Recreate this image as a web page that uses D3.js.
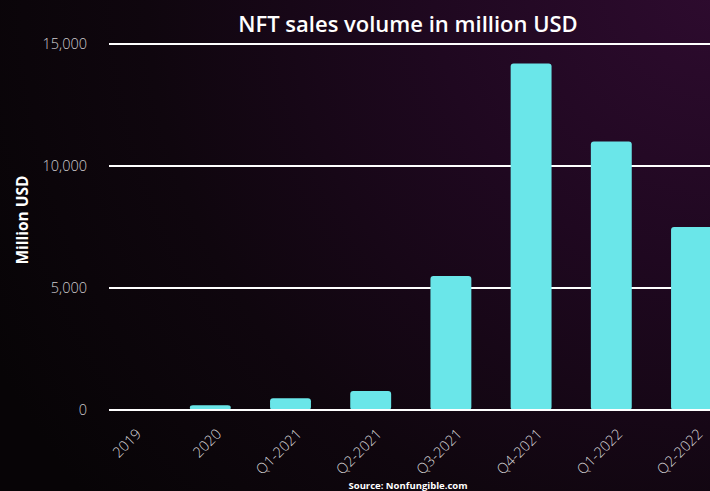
<!DOCTYPE html>
<html>
<head>
<meta charset="utf-8">
<script src="https://cdn.jsdelivr.net/npm/d3@7"></script>
<style>
  html, body { margin: 0; padding: 0; background: #0a0509; }
  svg { display: block; }
</style>
</head>
<body>
<svg id="chart" width="710" height="491"></svg>
<script>
// NFT sales volume per period (million USD)
const periods = ["2019", "2020", "Q1-2021", "Q2-2021", "Q3-2021", "Q4-2021", "Q1-2022", "Q2-2022"];
const volumes = [0, 190, 480, 780, 5490, 14200, 11000, 7500];
const yTicks = [0, 5000, 10000, 15000];

const W = 710, H = 491;
const svg = d3.select("#chart");

// Dark background with a purple glow toward the upper right
const defs = svg.append("defs");
const bg = defs.append("radialGradient")
  .attr("id", "bg").attr("gradientUnits", "userSpaceOnUse")
  .attr("cx", 720).attr("cy", -20).attr("r", 820);
bg.append("stop").attr("offset", "0%").attr("stop-color", "#2e0b2f");
bg.append("stop").attr("offset", "35%").attr("stop-color", "#1f0820");
bg.append("stop").attr("offset", "70%").attr("stop-color", "#0f060e");
bg.append("stop").attr("offset", "100%").attr("stop-color", "#070406");
svg.append("rect").attr("width", W).attr("height", H).attr("fill", "url(#bg)");

const x = d3.scaleBand()
  .domain(periods)
  .range([90, 731.6])
  .paddingInner(0.49)
  .paddingOuter(0.245);

const y = d3.scaleLinear()
  .domain([0, 15000])
  .range([410, 44]);

const plotLeft = 109, plotRight = 710;

// Horizontal gridlines
svg.append("g")
  .selectAll("line")
  .data(yTicks)
  .join("line")
  .attr("x1", plotLeft).attr("x2", plotRight)
  .attr("y1", d => y(d)).attr("y2", d => y(d))
  .attr("stroke", "#ffffff").attr("stroke-width", 2);

// Y axis tick labels
const yAxis = d3.axisLeft(y)
  .tickValues(yTicks)
  .tickFormat(d3.format(","))
  .tickSize(0)
  .tickPadding(0);
const gy = svg.append("g").attr("transform", "translate(87,0)").call(yAxis);
gy.select(".domain").remove();
gy.selectAll("text")
  .attr("fill", "#cfcccf")
  .attr("font-family", "'Open Sans', sans-serif")
  .attr("font-weight", 300)
  .attr("font-size", 14.5);

// Bars
svg.append("g")
  .selectAll("rect")
  .data(periods.map((p, i) => ({ p, v: volumes[i] })).filter(d => d.v > 0))
  .join("rect")
  .attr("x", d => x(d.p))
  .attr("y", d => y(d.v))
  .attr("width", x.bandwidth())
  .attr("height", d => y(0) - y(d.v))
  .attr("rx", 3).attr("ry", 3)
  .attr("fill", "#6ae6e9");

// Redraw baseline above bars
svg.append("line")
  .attr("x1", plotLeft).attr("x2", plotRight)
  .attr("y1", y(0)).attr("y2", y(0))
  .attr("stroke", "#ffffff").attr("stroke-width", 2);

// X axis labels, rotated
const xAxis = d3.axisBottom(x).tickSize(0).tickPadding(0);
const gx = svg.append("g").attr("transform", "translate(0,416)").call(xAxis);
gx.select(".domain").remove();
gx.selectAll("text")
  .attr("fill", "#d8d6d8")
  .attr("font-family", "'Open Sans', sans-serif")
  .attr("font-weight", 300)
  .attr("font-size", 14.5)
  .attr("text-anchor", "end")
  .attr("dy", null)
  .attr("transform", "translate(12,19) rotate(-45)");

// Title
svg.append("text")
  .attr("x", 408).attr("y", 32)
  .attr("text-anchor", "middle")
  .attr("fill", "#ffffff")
  .attr("font-family", "'Open Sans', sans-serif")
  .attr("font-weight", 600)
  .attr("font-size", 22)
  .text("NFT sales volume in million USD");

// Y axis title
svg.append("text")
  .attr("transform", "translate(28,220) rotate(-90)")
  .attr("text-anchor", "middle")
  .attr("fill", "#ffffff")
  .attr("font-family", "'Open Sans', sans-serif")
  .attr("font-weight", 700)
  .attr("font-size", 15.5)
  .text("Million USD");

// Source note
svg.append("text")
  .attr("x", 408).attr("y", 489)
  .attr("text-anchor", "middle")
  .attr("fill", "#ffffff")
  .attr("font-family", "'Open Sans', sans-serif")
  .attr("font-weight", 700)
  .attr("font-size", 9.5)
  .text("Source: Nonfungible.com");
</script>
</body>
</html>
